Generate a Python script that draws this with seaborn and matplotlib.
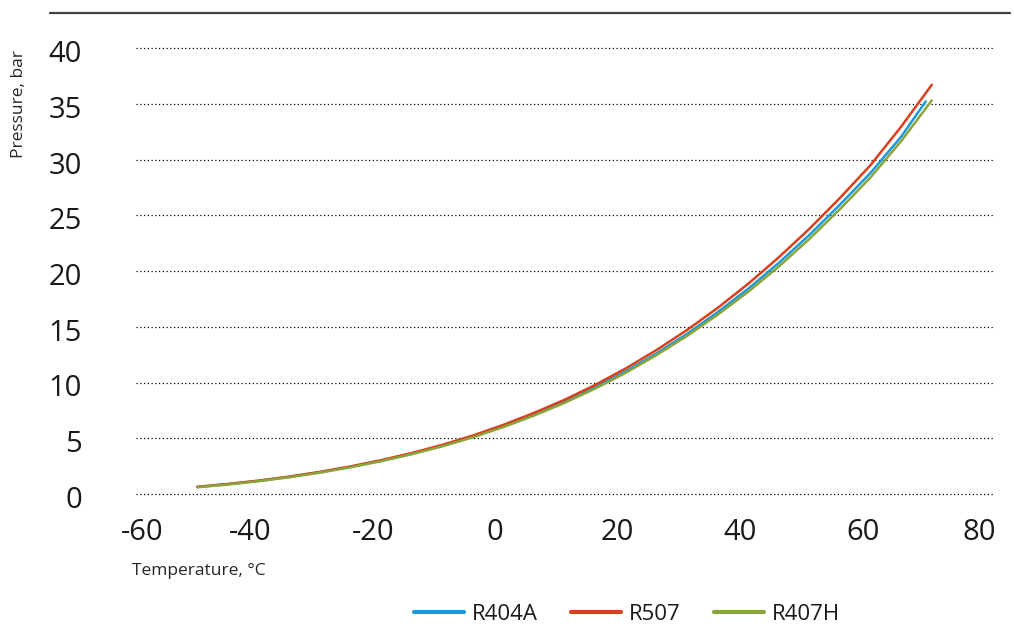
import matplotlib
matplotlib.use("Agg")
import matplotlib.pyplot as plt
import matplotlib.transforms as mtransforms
from matplotlib.lines import Line2D
import pandas as pd
import seaborn as sns

# ---- data ----
temps_404a = [-50, -45, -40, -35, -30, -25, -20, -15, -10, -5, 0, 5, 10, 15, 20,
              25, 30, 35, 40, 45, 50, 55, 60, 65, 69]
p_404a = [0.63, 0.88, 1.18, 1.53, 1.95, 2.43, 2.98, 3.61, 4.33, 5.15, 6.1, 7.15, 8.3,
          9.6, 11.0, 12.6, 14.35, 16.3, 18.4, 20.72, 23.23, 25.95, 28.8, 32.05, 35.2]

temps_507 = [-50, -45, -40, -35, -30, -25, -20, -15, -10, -5, 0, 5, 10, 15, 20,
             25, 30, 35, 40, 45, 50, 55, 60, 65, 70]
p_507 = [0.65, 0.9, 1.2, 1.56, 1.98, 2.47, 3.03, 3.67, 4.4, 5.24, 6.2, 7.27, 8.45,
         9.78, 11.26, 12.9, 14.7, 16.68, 18.85, 21.22, 23.78, 26.55, 29.5, 32.95, 36.7]

temps_407h = [-50, -45, -40, -35, -30, -25, -20, -15, -10, -5, 0, 5, 10, 15, 20,
              25, 30, 35, 40, 45, 50, 55, 60, 65, 70]
p_407h = [0.6, 0.85, 1.15, 1.5, 1.91, 2.39, 2.94, 3.56, 4.27, 5.08, 6.0, 7.03, 8.17,
          9.45, 10.87, 12.45, 14.17, 16.07, 18.13, 20.4, 22.87, 25.55, 28.4, 31.65, 35.3]

series_names = ["R404A", "R507", "R407H"]
series_colors = ["#1a9bd7", "#d9411e", "#8aa53a"]

x_ticks = [-60, -40, -20, 0, 20, 40, 60, 80]
y_ticks = [0, 5, 10, 15, 20, 25, 30, 35, 40]

df = pd.concat([
    pd.DataFrame({"Temperature": temps_404a, "Pressure": p_404a, "Refrigerant": "R404A"}),
    pd.DataFrame({"Temperature": temps_507, "Pressure": p_507, "Refrigerant": "R507"}),
    pd.DataFrame({"Temperature": temps_407h, "Pressure": p_407h, "Refrigerant": "R407H"}),
], ignore_index=True)

# ---- style ----
sns.set_theme(style="white")
plt.rcParams["font.family"] = ["Open Sans", "DejaVu Sans"]
plt.rcParams["text.color"] = "#1a1a1a"
plt.rcParams["xtick.color"] = "#1a1a1a"
plt.rcParams["ytick.color"] = "#1a1a1a"

W, H, DPI = 1014, 626, 100
fig = plt.figure(figsize=(W / DPI, H / DPI), dpi=DPI)
ax = fig.add_axes([136 / W, 1 - 494 / H, (993 - 136) / W, (494 - 48) / H])

sns.lineplot(data=df, x="Temperature", y="Pressure", hue="Refrigerant",
             hue_order=series_names, palette=series_colors, linewidth=1.8,
             sort=False, ax=ax, legend=True)

ax.set_xlim(-60, 80)
ax.set_ylim(0, 40)
ax.set_xticks(x_ticks)
ax.set_xticklabels([str(t) for t in x_ticks])
ax.set_yticks(y_ticks)
ax.set_yticklabels([str(t) for t in y_ticks])

for s in ax.spines.values():
    s.set_visible(False)

ax.grid(False)
ax.yaxis.grid(True, color="black", linestyle=(0, (1, 2)), linewidth=0.9)
ax.set_axisbelow(True)
for gl in ax.yaxis.get_gridlines():
    gl.set_clip_on(False)

ax.tick_params(axis="x", length=0, pad=17, labelsize=21)
ax.tick_params(axis="y", length=0, pad=39, labelsize=21)

# shift tick labels to match reference placement
offsets_px = {-60: 6, 80: -14}
for t, lab in zip(x_ticks, ax.get_xticklabels()):
    dx = offsets_px.get(t, -8)
    lab.set_transform(lab.get_transform() +
                      mtransforms.ScaledTranslation(dx / DPI, 0, fig.dpi_scale_trans))
for lab in ax.get_yticklabels():
    lab.set_transform(lab.get_transform() +
                      mtransforms.ScaledTranslation(0, -3 / DPI, fig.dpi_scale_trans))

ax.set_xlabel("Temperature, °C", fontsize=12.5, ha="left", va="center")
ax.xaxis.set_label_coords((132 - 136) / 857, (494 - 571) / 446)
ax.set_ylabel("Pressure, bar", fontsize=12.5, ha="center", va="center")
ax.yaxis.set_label_coords((19 - 136) / 857, (494 - 104) / 446)

handles, labels = ax.get_legend_handles_labels()
ax.legend(handles, labels, ncol=3, loc="center",
          bbox_to_anchor=(627 / W, 1 - 614 / H), bbox_transform=fig.transFigure,
          frameon=False, fontsize=16, handlelength=2.25, handletextpad=0.36,
          columnspacing=1.5)
for lh in ax.get_legend().get_lines():
    lh.set_linewidth(3.0)

# top rule
fig.add_artist(Line2D([50 / W, 1010 / W], [1 - 13 / H, 1 - 13 / H],
                      color="#404040", linewidth=1.6, transform=fig.transFigure))

fig.savefig("out.png", dpi=DPI)
